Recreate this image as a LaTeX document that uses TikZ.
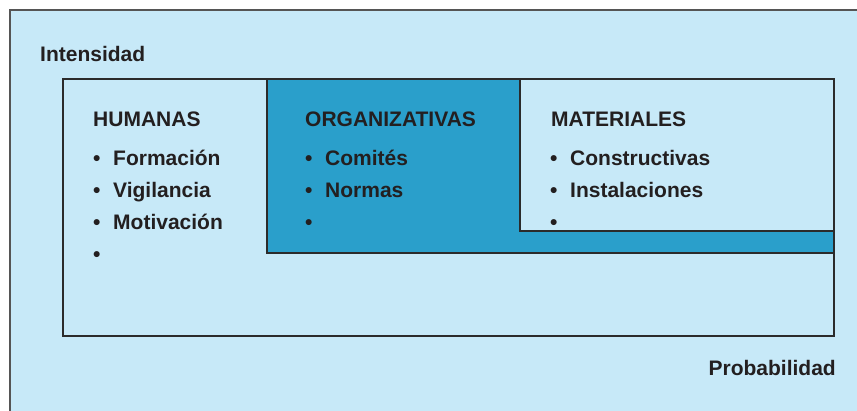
\documentclass[tikz,border=0pt]{standalone}
\usepackage{fontspec}
\setmainfont{Liberation Sans}
\usetikzlibrary{positioning}

\definecolor{fondo}{HTML}{C7E9F8}
\definecolor{azul}{HTML}{2A9FCB}
\definecolor{linea}{HTML}{2B2B2B}
\definecolor{texto}{HTML}{231F20}

\begin{document}
\begin{tikzpicture}[x=1pt, y=-1pt]
			\tikzstyle{Label}	= [anchor=base west, inner sep=0pt, text=texto, font=\fontsize{21}{24}\selectfont\bfseries]
			\tikzstyle{Bullet}	= [Label]
			\tikzstyle{Frame}	= [draw=linea, line width=1.3pt]
			
			\useasboundingbox (0,0) rectangle (857,411);
			\fill[white] (0,0) rectangle (857,411);
			\fill[fondo] (10,10) rectangle (857,411);
			\draw[linea!80, line width=1.6pt] (10,411) -- (10,10) -- (857,10);
			
			% main box and the blue L
			\draw[Frame, fill=fondo] (63,79) rectangle (834,336);
			\draw[Frame, fill=azul] (267,79) -- (520,79) -- (520,231) -- (834,231) -- (834,253) -- (267,253) -- cycle;
			\draw[Frame, fill=fondo] (520,79) rectangle (834,231);
			
			\node (intensidad) at (40,62) [Label] {Intensidad};
			\node (probabilidad) at (836,376) [Label, anchor=base east] {Probabilidad};
			
			\node (humanas) at (93,127) [Label] {HUMANAS};
			\node (h1) at (93,166) [Bullet] {•};
			\node (h2) at (93,198) [Bullet] {•};
			\node (h3) at (93,230) [Bullet] {•};
			\node (h4) at (93,262) [Bullet] {•};
			\node (formacion) at (113,166) [Label] {Formación};
			\node (vigilancia) at (113,198) [Label] {Vigilancia};
			\node (motivacion) at (113,230) [Label] {Motivación};
			
			\node (organizativas) at (305,127) [Label] {ORGANIZATIVAS};
			\node (o1) at (305,166) [Bullet] {•};
			\node (o2) at (305,198) [Bullet] {•};
			\node (o3) at (305,230) [Bullet] {•};
			\node (comites) at (325,166) [Label] {Comités};
			\node (normas) at (325,198) [Label] {Normas};
			
			\node (materiales) at (551,127) [Label] {MATERIALES};
			\node (m1) at (550,166) [Bullet] {•};
			\node (m2) at (550,198) [Bullet] {•};
			\node (m3) at (550,230) [Bullet] {•};
			\node (constructivas) at (570,166) [Label] {Constructivas};
			\node (instalaciones) at (570,198) [Label] {Instalaciones};
\end{tikzpicture}
\end{document}
